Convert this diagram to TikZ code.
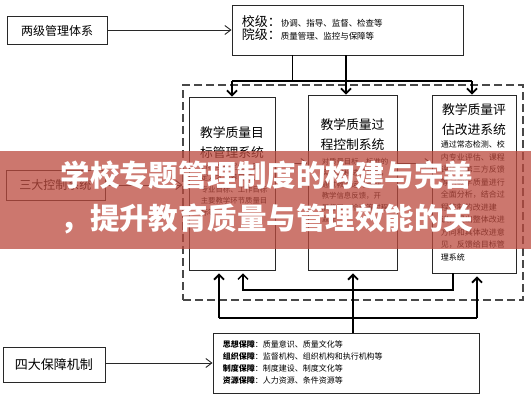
\documentclass[tikz,border=0pt]{standalone}
\usepackage{fontspec}
\usepackage{tikz}
\usetikzlibrary{arrows.meta,positioning,calc}
\newfontfamily\cjk{Noto Sans CJK SC}
\definecolor{bannerred}{RGB}{188,74,62}
\definecolor{boxline}{RGB}{40,40,40}
\tikzset{
    box/.style={rectangle, draw=boxline, line width=0.9pt, inner sep=0pt},
    sidebox/.style={box, font=\cjk\fontsize{12}{14}\selectfont},
    dashbox/.style={rectangle, draw=boxline!85, line width=1.1pt, dash pattern=on 8pt off 4pt, inner sep=0pt},
    ttl/.style={font=\cjk\fontsize{12.8}{19.5}\selectfont, align=center, inner sep=0pt},
    note/.style={font=\cjk\fontsize{7.4}{11.5}\selectfont, align=left, inner sep=0pt},
    line/.style={draw=boxline, line width=0.9pt, -{Straight Barb[length=6pt,width=9pt]}},
    bus/.style={draw=black, line width=1.8pt},
    busarrow/.style={bus, -{Straight Barb[length=5pt,width=10pt]}}
}

\begin{document}
\begin{tikzpicture}[x=1pt, y=-1pt]
    \path [fill=white] (0,0) rectangle (531,400);
    \useasboundingbox (0,0) rectangle (531,400);

    % Left side labels
    \node [sidebox, minimum width=100pt, minimum height=28pt] (twolevel) at (57,30.5) {两级管理体系};
    \node [sidebox, minimum width=99pt, minimum height=30pt] (threectrl) at (55.5,185) {三大控制系统};
    \node [sidebox, minimum width=102pt, minimum height=35pt, font=\cjk\fontsize{13}{15}\selectfont] (fourguar) at (54,364.5) {四大保障机制};

    % School and college level
    \node [box, minimum width=231pt, minimum height=50pt] (levels) at (347.5,30) {};
    \node [note, anchor=north west] (levels-t) at ([shift={(10,11)}]levels.north west)
        {{\fontsize{13}{19}\selectfont 校级：}{\fontsize{8.5}{19}\selectfont 协调、指导、监督、检查等}\\
         {\fontsize{13}{19}\selectfont 院级：}{\fontsize{8.5}{19}\selectfont 质量管理、监控与保障等}};

    % Dashed frame with the three systems
    \node [dashbox, minimum width=340pt, minimum height=215pt] (frame) at (353,192.5) {};
    \node [box, minimum width=86pt, minimum height=173pt] (goal) at (232,183.5) {};
    \node [box, minimum width=89pt, minimum height=175pt] (proc) at (352.5,182.5) {};
    \node [box, minimum width=84pt, minimum height=178pt] (eval) at (474,184) {};

    \node [ttl, below=30pt of goal.north] (goal-t) {教学质量目\\标管理系统};
    \node [ttl, below=24pt of proc.north] (proc-t) {教学质量过\\程控制系统};
    \node [ttl, below=9pt of eval.north] (eval-t) {教学质量评\\估改进系统};

    \node [note, anchor=north west] (goal-b) at ([shift={(12,66)}]goal.north west)
        {分析学校定位，确\\定人才培养目标、\\专业目标、工作目标\\主要教学环节质量目\\标等};
    \node [note, anchor=north west] (proc-b) at ([shift={(14,63)}]proc.north west)
        {对质量目标、标准的\\实施过程进行监控，\\通过教学运行管理、\\教学信息反馈，开\\展督导、检查等过程\\监控};
    \node [note, anchor=north west, font=\cjk\fontsize{8}{12.5}\selectfont] (eval-b) at ([shift={(9,46)}]eval.north west)
        {通过常态检测、校\\内专业评估、课程\\评估、第三方反馈\\等对教学质量进行\\全面分析，结合过\\程控制的改进建\\议，提出整体改进\\方向和具体改进意\\见，反馈给目标管\\理系统};

    % Four guarantees
    \node [box, minimum width=266pt, minimum height=60pt] (support) at (346,363) {};
    \node [note, anchor=north west, font=\cjk\fontsize{8}{12}\selectfont] (support-t) at ([shift={(10,8)}]support.north west)
        {\textbf{思想保障}：质量意识、质量文化等\\
         \textbf{组织保障}：监督机构、组织机构和执行机构等\\
         \textbf{制度保障}：制度建设、制度文化等\\
         \textbf{资源保障}：人力资源、条件资源等};

    % Branch points
    \coordinate (topJ) at (292,81);
    \coordinate (topL) at (232,81);
    \coordinate (topR) at (472,81);
    \coordinate (topM) at (346,81);
    \coordinate (midrow) at (0,163);
    \coordinate (botL) at (219,318);
    \coordinate (botR) at (477,318);
    \coordinate (botM) at (353,318);
    \coordinate (loopR) at (453,290);
    \coordinate (loopL) at (243,290);

    % Arrows from the left labels
    \path [line] (twolevel.east |- levels.west) -- (levels.west);
    \path [line] (threectrl.east) -- (threectrl.east -| frame.west);
    \path [line] (fourguar.east |- support.west) -- (support.west);

    % From the two levels down
    \draw [line width=0.9pt] (levels.south -| topJ) -- (topJ);
    \path [bus] (topL) -- (topR);
    \path [busarrow] (topL) -- (topL |- goal.north);
    \path [busarrow] (topR) -- (topR |- eval.north);
    \path [busarrow] (levels.south -| topM) -- (topM |- proc.north);

    % Between the systems
    \path [line] (goal.east |- midrow) -- (proc.west |- midrow);
    \path [line] (proc.east |- midrow) -- (eval.west |- midrow);

    % Feedback from evaluation to goals
    \path [draw=black, line width=1.3pt, -{Straight Barb[length=5pt,width=10pt]}, shorten >=3pt]
        (eval.south -| loopR) -- (loopR) -- (loopL) -- (loopL |- goal.south);

    % From the guarantees up
    \path [bus] (botL) -- (botR);
    \path [busarrow, shorten >=3pt] (botL) -- (botL |- goal.south);
    \path [busarrow, shorten >=3pt] (botR) -- (botR |- eval.south);
    \path [busarrow, shorten >=3pt] (support.north -| botM) -- (botM |- proc.south);

    % Title band
    \node [fill=bannerred, fill opacity=0.75, minimum width=531pt, minimum height=98pt, inner sep=0pt] (band) at (265.5,200) {};
    \node [font=\cjk\bfseries\fontsize{29.5}{43}\selectfont, text=white, align=center, inner sep=0pt] (banner) at (267,197.5)
        {学校专题管理制度的构建与完善\\，提升教育质量与管理效能的关};
\end{tikzpicture}
\end{document}
